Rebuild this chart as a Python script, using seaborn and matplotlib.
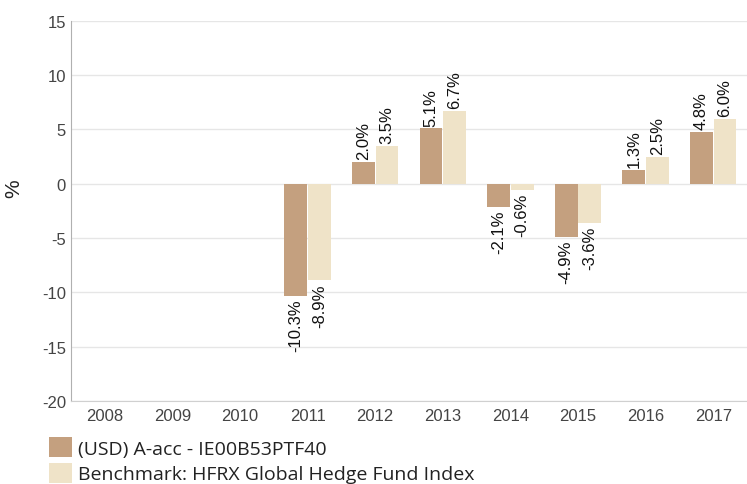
import numpy as np
import pandas as pd
import matplotlib.pyplot as plt
import seaborn as sns

years = ["2008", "2009", "2010", "2011", "2012", "2013", "2014", "2015", "2016", "2017"]
fund = [np.nan, np.nan, np.nan, -10.3, 2.0, 5.1, -2.1, -4.9, 1.3, 4.8]
bench = [np.nan, np.nan, np.nan, -8.9, 3.5, 6.7, -0.6, -3.6, 2.5, 6.0]
fund_name = "(USD) A-acc - IE00B53PTF40"
bench_name = "Benchmark: HFRX Global Hedge Fund Index"

df = pd.DataFrame({"year": years * 2,
                   "value": fund + bench,
                   "series": [fund_name] * len(years) + [bench_name] * len(years)})
df = df.dropna()

sns.set_style("white")
plt.rcParams["font.family"] = ["Liberation Sans", "DejaVu Sans"]
plt.rcParams["axes.unicode_minus"] = False

fig = plt.figure(figsize=(7.47, 4.85), dpi=100)
ax = fig.add_axes([0.095, 0.171, 0.905, 0.784])

pal = {fund_name: "#C4A07F", bench_name: "#EFE3C8"}
sns.barplot(data=df, x="year", y="value", hue="series", order=years,
            hue_order=[fund_name, bench_name], palette=pal, width=0.7, gap=0.04,
            saturation=1, edgecolor="none", ax=ax, legend=True)

for c in ax.containers:
    ax.bar_label(c, fmt="%.1f%%", rotation=90, padding=2, fontsize=12, color="#111111")

ax.set_ylim(-20, 15)
ax.set_yticks(range(-20, 16, 5))
ax.set_xlim(-0.5, 9.5)
ax.grid(axis="y", color="#e6e6e6", linewidth=1)
ax.set_axisbelow(True)
for s in ["top", "right"]:
    ax.spines[s].set_visible(False)
ax.spines["left"].set_color("#b0b0b0")
ax.spines["bottom"].set_color("#d0d0d0")
ax.tick_params(axis="both", length=0, labelsize=12, labelcolor="#444444")
ax.tick_params(axis="x", pad=5)
ax.set_xlabel("")
ax.set_ylabel("%", fontsize=15, color="#222222")
ax.yaxis.set_label_coords(-0.07, 0.56)

leg = ax.legend(loc="upper left", bbox_to_anchor=(-0.033, -0.095), frameon=False,
                prop={"family": "Open Sans", "size": 14}, handlelength=1.2,
                handleheight=1.2, handletextpad=0.3, labelspacing=0.25,
                borderaxespad=0, borderpad=0)
for t in leg.get_texts():
    t.set_color("#222222")

fig.savefig("out.png", dpi=100)
